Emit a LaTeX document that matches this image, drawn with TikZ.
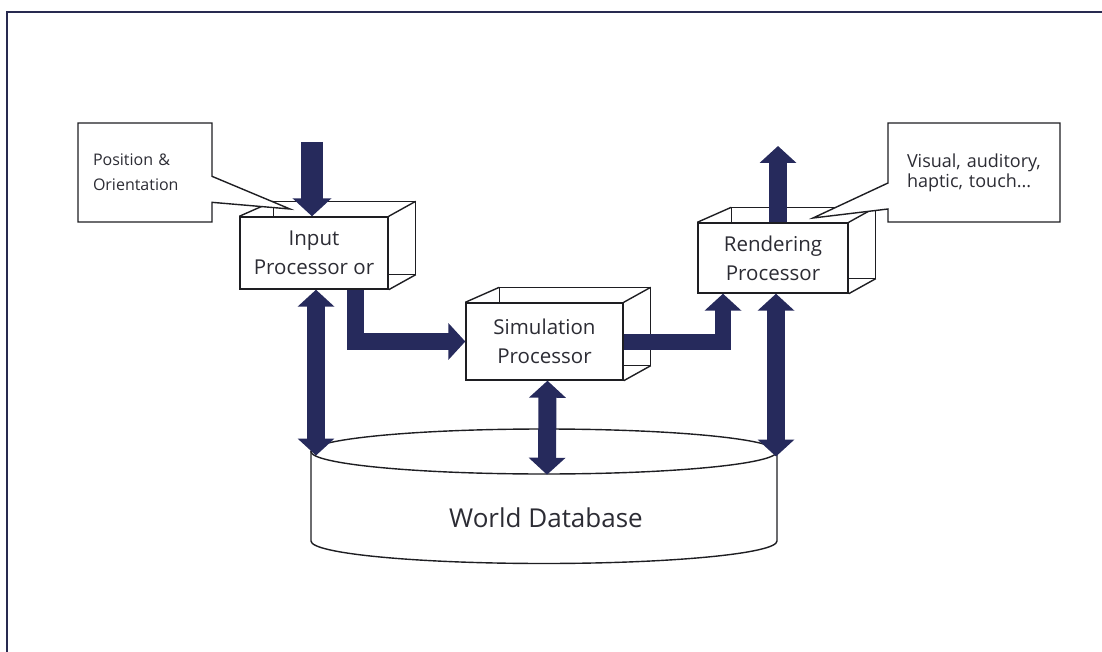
\documentclass[tikz,border=0pt]{standalone}
\usepackage{fontspec}
\setmainfont{Open Sans}
\usetikzlibrary{arrows.meta,shapes.callouts,shapes.geometric,backgrounds}
\definecolor{navy}{RGB}{38,42,92}
\definecolor{framec}{RGB}{40,42,80}
\definecolor{linec}{RGB}{30,30,34}
\definecolor{txt}{RGB}{44,44,52}
\tikzset{
  edge/.style={draw=linec, line width=1.4pt},
  front/.style={edge, fill=white, inner sep=0pt, align=center, text=txt,
                font=\fontsize{20.5}{29}\selectfont},
  blk/.style={draw=navy, line width=18pt, -{Triangle[width=36pt,length=17pt]}},
  dbl/.style={draw=navy, line width=18pt,
              {Triangle[width=36pt,length=17pt]}-{Triangle[width=36pt,length=17pt]}},
  note/.style={rectangle callout, edge, fill=white, inner sep=0pt, align=left,
               text=txt, callout pointer width=26pt},
}
% back face and receding edges of a box, drawn behind its front face
\newcommand\boxdepth[1]{%
  \begin{pgfonlayer}{background}
    \draw[edge, fill=white]
      ([shift={(34,-15)}]#1.north west) -- ([shift={(27,-15)}]#1.north east)
      -- ([shift={(27,-15)}]#1.south east) -- ([shift={(34,-15)}]#1.south west) -- cycle;
    \draw[edge] (#1.north west) -- ([shift={(34,-15)}]#1.north west)
                (#1.north east) -- ([shift={(27,-15)}]#1.north east)
                (#1.south east) -- ([shift={(27,-15)}]#1.south east);
  \end{pgfonlayer}}
\begin{document}
\begin{tikzpicture}[x=1pt,y=-1pt]
\useasboundingbox (0,0) rectangle (1102,652);
% page frame, open to the right and bottom edges
\draw[framec, line width=2.4pt] (1103,12) -- (7,12) -- (7,653);

% processors
\node[front, minimum width=148pt, minimum height=72pt] (inp) at (314,253) {Input\\Processor or};
\node[front, minimum width=157pt, minimum height=77pt] (sim) at (544.5,341.5) {Simulation\\Processor};
\node[front, minimum width=150pt, minimum height=70pt] (ren) at (773,258) {Rendering\\Processor};
\boxdepth{inp}
\boxdepth{sim}
\boxdepth{ren}

% world database
\draw[edge, fill=white] (311,451.5) -- (311,541)
  arc[start angle=180, end angle=360, x radius=233pt, y radius=22.5pt] -- (777,451.5);
\node[ellipse, edge, fill=white, minimum width=466pt, minimum height=45pt, inner sep=0pt]
  (dbt) at (544,451.5) {};
\node[text=txt, font=\fontsize{26}{30}\selectfont] (db) at (546,518) {World Database};
\coordinate (dbL) at (316,455.5);
\coordinate (dbR) at (776,456.5);

% callouts
\node[note, minimum width=134pt, minimum height=99pt, text width=104pt,
      font=\fontsize{16}{25}\selectfont, callout absolute pointer={(290,209)}]
  (pos) at (145,172.5) {Position \&\\Orientation};
\node[note, minimum width=172pt, minimum height=99pt, text width=134pt,
      font=\fontsize{18}{20}\selectfont, callout absolute pointer={(813,218)}]
  (vis) at (974,172.5) {Visual, auditory,\\haptic, touch...};

% data flow
\coordinate (inTop) at (312,142);
\coordinate (outTop) at (778,146);
\draw[blk, line width=22pt, -{Triangle[width=38pt,length=18pt]}] (inTop) -- ([xshift=-2pt]inp.north);
\draw[blk] ([xshift=5pt]ren.north) -- (outTop);
\draw[blk, line width=17pt] ([xshift=41pt]inp.south) |- (sim.west);
\draw[blk, line width=16pt] (sim.east) -| ([xshift=-50pt]ren.south);
\draw[dbl] ([xshift=2pt]inp.south) -- (dbL);
\draw[dbl] ([xshift=3pt]sim.south) -- ([xshift=3pt]dbt.south);
\draw[dbl] ([xshift=3pt]ren.south) -- (dbR);
\end{tikzpicture}
\end{document}
